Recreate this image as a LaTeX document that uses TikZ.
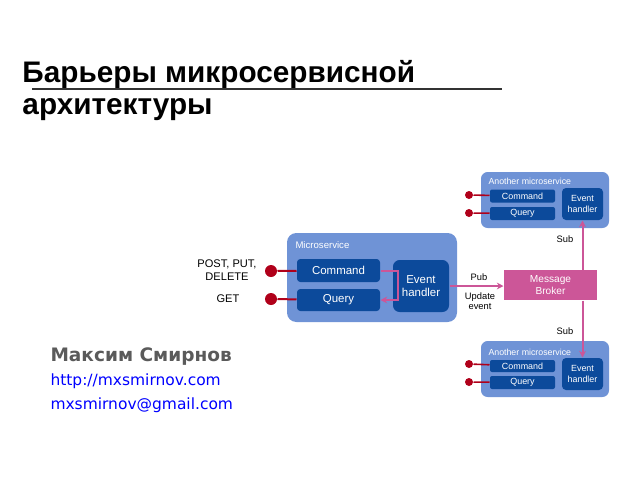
\documentclass[tikz,border=0pt]{standalone}
\usepackage{fontspec}
\setmainfont{Liberation Sans}
\newfontfamily\namefont{DejaVu Sans}
\usetikzlibrary{arrows.meta}

\definecolor{svcBlue}{RGB}{111,147,214}
\definecolor{partBlue}{RGB}{12,74,155}
\definecolor{dotRed}{RGB}{176,0,26}
\definecolor{brokerPink}{RGB}{204,86,152}
\definecolor{nameGray}{RGB}{90,90,90}

\tikzset{every picture/.style={line width=0.75pt}}
\tikzset{
  svcbox/.style={fill=svcBlue, rounded corners=7pt, inner sep=0pt},
  partbox/.style={fill=partBlue, rounded corners=2.5pt, text=white, inner sep=0pt, align=center},
  enddot/.style={circle, fill=dotRed, inner sep=0pt, minimum size=#1},
  endline/.style={draw=dotRed, line width=1.5pt},
  pinkline/.style={draw=brokerPink, line width=1.5pt},
  smalltext/.style={font=\fontsize{7}{8}\selectfont, align=center, inner sep=0.75pt}
}

\begin{document}
\begin{tikzpicture}[x=0.75pt,y=0.75pt,yscale=-1,xscale=1]
\useasboundingbox (0,0) rectangle (640,480);

% Text Node
\node (title1) [anchor=base west, inner sep=0pt, font=\fontsize{22.3}{26}\bfseries] at (22,82) {Барьеры микросервисной};
% Text Node
\node (title2) [anchor=base west, inner sep=0pt, font=\fontsize{22.3}{26}\bfseries] at (22,114) {архитектуры};
%Straight Lines
\draw [line width=1.2pt, black!80] (32,89) -- (502,89);

%Shape: Microservice
\node (svc) [svcbox, minimum width=127.5pt, minimum height=66.75pt] at (372,277.5) {};
\node (svclabel) [anchor=west, font=\fontsize{7.2}{8}\selectfont, text=white, inner sep=0pt] at (295,245) {Microservice};
\node (cmd) [partbox, minimum width=62.25pt, minimum height=17.25pt, font=\fontsize{8.6}{10}\selectfont] at (338.5,270.5) {Command};
\node (qry) [partbox, minimum width=62.25pt, minimum height=16.5pt, font=\fontsize{8.6}{10}\selectfont] at (338.5,300) {Query};
\node (eh) [partbox, rounded corners=5pt, minimum width=42pt, minimum height=39pt, font=\fontsize{8.6}{10}\selectfont] at (421,286) {Event\\handler};
%Shape: Circle
\node (cmddot) [enddot=9pt] at (271,271) {};
\node (qrydot) [enddot=9pt] at (271,299) {};
\draw [endline] (cmddot) -- (cmd);
\draw [endline] (qrydot) -- (qry);
% Text Node
\node (postlabel) [font=\fontsize{8.3}{9.5}\selectfont, align=center, inner sep=0pt] at (227,270) {POST, PUT,\\DELETE};
\node (getlabel) [font=\fontsize{8.3}{9.5}\selectfont, inner sep=0pt] at (228,299) {GET};
%Straight Lines
\draw [pinkline, -{Stealth[length=5pt,width=5pt]}] (cmd.east) -- ++(17,0) |- (qry.east);

%Shape: Message Broker
\node (broker) [fill=brokerPink, text=white, inner sep=0pt, align=center, minimum width=69.75pt, minimum height=22.5pt, font=\fontsize{7.6}{9}\selectfont] at (550.5,285) {Message\\Broker};
\draw [pinkline, -{Stealth[length=5pt,width=5pt]}] (eh.east) -- (eh.east -| broker.west);
\node (publabel) [smalltext] at (479,277) {Pub};
\node (updlabel) [smalltext] at (480,301) {Update\\event};

%Shape: Another microservice (top)
\node (topsvc) [svcbox, rounded corners=5pt, minimum width=96pt, minimum height=42pt] at (545,200) {};
\node (toplabel) [anchor=west, font=\fontsize{6.6}{8}\selectfont, text=white, inner sep=0pt] at (488,181) {Another microservice};
\node (topcmd) [partbox, rounded corners=1.5pt, minimum width=48.75pt, minimum height=9.75pt, font=\fontsize{6.7}{8}\selectfont] at (522.5,196) {Command};
\node (topqry) [partbox, rounded corners=1.5pt, minimum width=48.75pt, minimum height=9.75pt, font=\fontsize{6.7}{8}\selectfont] at (522.5,213.5) {Query};
\node (topeh) [partbox, rounded corners=3pt, minimum width=30.75pt, minimum height=24pt, font=\fontsize{6.7}{8}\selectfont] at (582.5,204) {Event\\handler};
\node (topcmddot) [enddot=6pt] at (469,195) {};
\node (topqrydot) [enddot=6pt] at (469,213) {};
\draw [endline, line width=1.2pt] (topcmddot) -- (topcmd);
\draw [endline, line width=1.2pt] (topqrydot) -- (topqry);
\draw [pinkline, -{Stealth[length=5pt,width=5pt]}] (topeh.south |- broker.north) -- (topeh.south);
\node (topsub) [smalltext] at (565,239) {Sub};

%Shape: Another microservice (bottom)
\node (botsvc) [svcbox, rounded corners=5pt, minimum width=96pt, minimum height=42pt] at (545,369) {};
\node (botlabel) [anchor=west, font=\fontsize{6.6}{8}\selectfont, text=white, inner sep=0pt] at (488,352) {Another microservice};
\node (botcmd) [partbox, rounded corners=1.5pt, minimum width=48.75pt, minimum height=9pt, font=\fontsize{6.7}{8}\selectfont] at (522.5,366) {Command};
\node (botqry) [partbox, rounded corners=1.5pt, minimum width=48.75pt, minimum height=9.75pt, font=\fontsize{6.7}{8}\selectfont] at (522.5,382.5) {Query};
\node (boteh) [partbox, rounded corners=3pt, minimum width=30.75pt, minimum height=24pt, font=\fontsize{6.7}{8}\selectfont] at (582.5,374) {Event\\handler};
\node (botcmddot) [enddot=6pt] at (469,364) {};
\node (botqrydot) [enddot=6pt] at (469,382) {};
\draw [endline, line width=1.2pt] (botcmddot) -- (botcmd);
\draw [endline, line width=1.2pt] (botqrydot) -- (botqry);
\draw [pinkline, -{Stealth[length=5pt,width=5pt]}] (boteh.north |- broker.south) -- (boteh.north);
\node (botsub) [smalltext] at (565,331) {Sub};

% Text Node
\node (author) [anchor=west, inner sep=0pt, text=nameGray, font=\namefont\fontsize{13.9}{16}\bfseries] at (50,357) {Максим Смирнов};
\node (site) [anchor=west, inner sep=0pt, text=blue, font=\namefont\fontsize{11.6}{15}\selectfont] at (50,381) {http://mxsmirnov.com};
\node (mail) [anchor=west, inner sep=0pt, text=blue, font=\namefont\fontsize{11.6}{15}\selectfont] at (50,405) {mxsmirnov@gmail.com};

\end{tikzpicture}
\end{document}
